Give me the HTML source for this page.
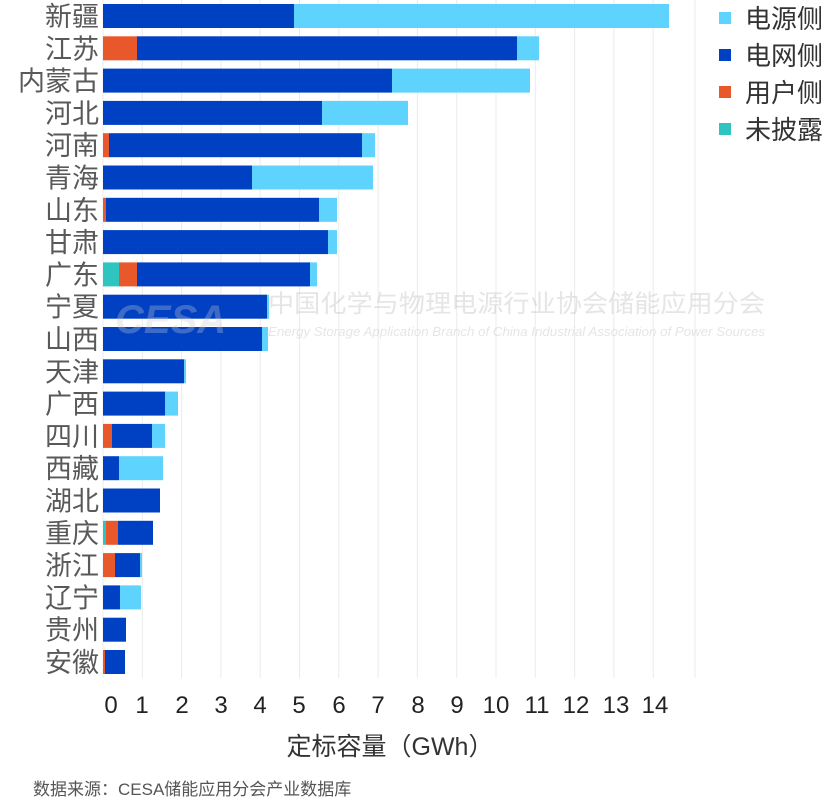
<!DOCTYPE html>
<html><head><meta charset="utf-8"><style>
body{margin:0;background:#fff;}
text{font-family:"Liberation Sans","Noto Sans CJK SC",sans-serif;}
</style></head><body>
<svg width="830" height="806" xmlns="http://www.w3.org/2000/svg">
<g stroke="#ebebeb" stroke-width="1">
<line x1="103" y1="0" x2="103" y2="678"/><line x1="142.3" y1="0" x2="142.3" y2="678"/><line x1="181.6" y1="0" x2="181.6" y2="678"/><line x1="220.9" y1="0" x2="220.9" y2="678"/><line x1="260.2" y1="0" x2="260.2" y2="678"/><line x1="299.5" y1="0" x2="299.5" y2="678"/><line x1="338.8" y1="0" x2="338.8" y2="678"/><line x1="378.1" y1="0" x2="378.1" y2="678"/><line x1="417.4" y1="0" x2="417.4" y2="678"/><line x1="456.7" y1="0" x2="456.7" y2="678"/><line x1="496" y1="0" x2="496" y2="678"/><line x1="535.3" y1="0" x2="535.3" y2="678"/><line x1="574.6" y1="0" x2="574.6" y2="678"/><line x1="613.9" y1="0" x2="613.9" y2="678"/><line x1="653.2" y1="0" x2="653.2" y2="678"/><line x1="695" y1="0" x2="695" y2="678"/>
</g>
<g id="bars"></g>
<g fill="#595959" font-size="27" text-anchor="end" id="labels"></g>
<g font-size="24" fill="#222" text-anchor="middle">
<text x="111" y="713">0</text><text x="142" y="713">1</text><text x="182" y="713">2</text><text x="221" y="713">3</text><text x="260" y="713">4</text><text x="299" y="713">5</text><text x="339" y="713">6</text><text x="378" y="713">7</text><text x="418" y="713">8</text><text x="457" y="713">9</text><text x="496" y="713">10</text><text x="537" y="713">11</text><text x="576" y="713">12</text><text x="616" y="713">13</text><text x="655" y="713">14</text>
</g>
<text x="390" y="755" font-size="25" fill="#333" text-anchor="middle">定标容量（GWh）</text>
<text x="33" y="795" font-size="17" fill="#555">数据来源：CESA储能应用分会产业数据库</text>
<g opacity="0.3">
<text x="268" y="312" font-size="24.5" fill="#aaa" textLength="497" lengthAdjust="spacingAndGlyphs">中国化学与物理电源行业协会储能应用分会</text>
<text x="268" y="336" font-size="12.5" fill="#aaa" font-style="italic" textLength="497" lengthAdjust="spacingAndGlyphs">Energy Storage Application Branch of China Industrial Association of Power Sources</text>
<text x="115" y="333" font-size="40" fill="#ccc" font-style="italic" font-weight="bold">CESA</text>
</g>
<rect x="719" y="12" width="12" height="12" fill="#5dd3fd"/><text x="745" y="28" font-size="26" fill="#333">电源侧</text>
<rect x="719" y="49" width="12" height="12" fill="#0041c4"/><text x="745" y="65" font-size="26" fill="#333">电网侧</text>
<rect x="719" y="86" width="12" height="12" fill="#e8582a"/><text x="745" y="102" font-size="26" fill="#333">用户侧</text>
<rect x="719" y="123" width="12" height="12" fill="#2ec4c0"/><text x="745" y="139" font-size="26" fill="#333">未披露</text>
</svg>
<script>
var d=[["新疆",0,0,294,669],["江苏",0,137,517,539],["内蒙古",0,0,392,530],["河北",0,0,322,408],["河南",0,109,362,375],["青海",0,0,252,373],["山东",0,106,319,337],["甘肃",0,0,328,337],["广东",119,137,310,317],["宁夏",0,0,267,269],["山西",0,0,262,268],["天津",0,0,184,186],["广西",0,0,165,178],["四川",0,112,152,165],["西藏",0,0,119,163],["湖北",0,0,160,160],["重庆",106,118,153,153],["浙江",0,115,140,142],["辽宁",0,0,120,141],["贵州",0,0,126,126],["安徽",0,105,125,125]];
var cols=["#2ec4c0","#e8582a","#0041c4","#5dd3fd"],ns="http://www.w3.org/2000/svg",b=document.getElementById("bars"),l=document.getElementById("labels");
d.forEach(function(r,i){var y=4+i*32.3,prev=103;for(var k=1;k<5;k++){var e=r[k];if(e>prev){var rc=document.createElementNS(ns,"rect");rc.setAttribute("x",prev);rc.setAttribute("y",y);rc.setAttribute("width",e-prev);rc.setAttribute("height",24);rc.setAttribute("fill",cols[k-1]);b.appendChild(rc);prev=e;}}
var t=document.createElementNS(ns,"text");t.setAttribute("x",99);t.setAttribute("y",y+22);t.textContent=r[0];l.appendChild(t);});
</script>
</body></html>
